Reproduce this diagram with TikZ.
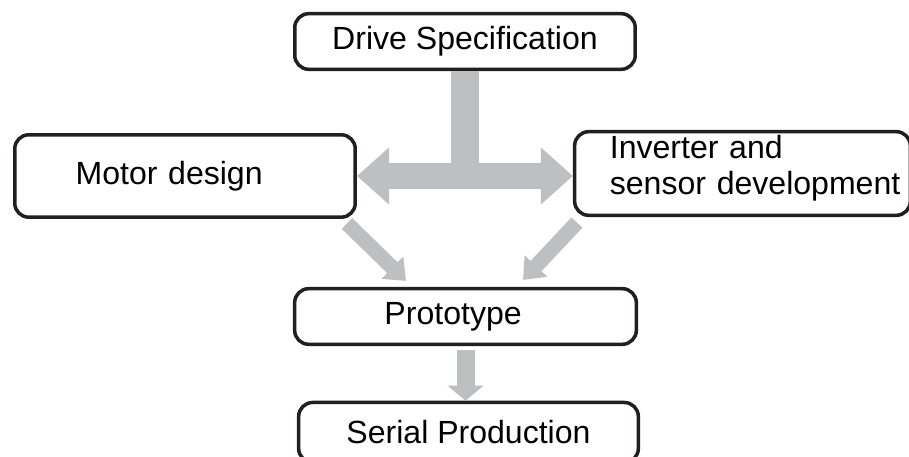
\documentclass[tikz,border=0pt]{standalone}
\usepackage{fontspec}
\setmainfont{Liberation Sans}
\usetikzlibrary{arrows.meta, calc}
\definecolor{flowgray}{RGB}{190,191,193}
\definecolor{boxblack}{RGB}{35,31,32}

\begin{document}
\begin{tikzpicture}[x=0.025cm, y=-0.025cm, font=\fontsize{22.8pt}{25.6pt}\selectfont,
		stage/.style={draw=boxblack, line width=0.0875cm, rounded corners=0.35cm, fill=white, inner sep=0pt, minimum height=1.39cm},
		fatflow/.style={draw=flowgray, line width=0.65cm, {Triangle[length=0.8cm, width=1.375cm]}-{Triangle[length=0.8cm, width=1.375cm]}},
		stemflow/.style={draw=flowgray, line width=0.7cm},
		slimflow/.style={draw=flowgray, line width=0.375cm, -{Triangle[length=0.475cm, width=0.75cm]}},
		downflow/.style={draw=flowgray, line width=0.45cm, -{Triangle[length=0.375cm, width=0.875cm]}}]
	\useasboundingbox (0, 0) rectangle (909, 457);

	\node[stage, minimum width=8.51cm]							(spec)		at (465, 41.5)		{Drive Specification};
	\node[stage, minimum width=8.51cm, minimum height=2.06cm, align=left, text width=5.47cm]	(motor)	at (185, 176)	{Motor design};
	\node[stage, minimum width=8.39cm, minimum height=2.09cm, align=left, text width=6.63cm, text depth=1.32cm]	(inv)	at (742.5, 173.5)	{Inverter and\\\mbox{sensor development}};
	\node[stage, minimum width=8.54cm, align=left, text width=4.05cm]	(proto)	at (465.5, 316.5)	{Prototype};
	\node[stage, minimum width=8.49cm, minimum height=1.5cm]		(serial)	at (468.5, 432.5)	{Serial Production};

	% spec feeds both design branches
	\draw[stemflow] (spec.south) -- (spec.south |- motor.east);
	\draw[fatflow] (motor.east) -- (motor.east -| inv.west);

	% branches meet in the prototype
	\draw[slimflow] ($(motor.south east)+(-10, 4.5)$) -- ($(proto.north)+(-59.5, -6)$);
	\draw[slimflow] ($(inv.south west)+(4, 5.5)$) -- ($(proto.north)+(57.5, -7)$);
	\draw[downflow, shorten <=3pt] (proto.south) -- (proto.south |- serial.north);
\end{tikzpicture}
\end{document}
